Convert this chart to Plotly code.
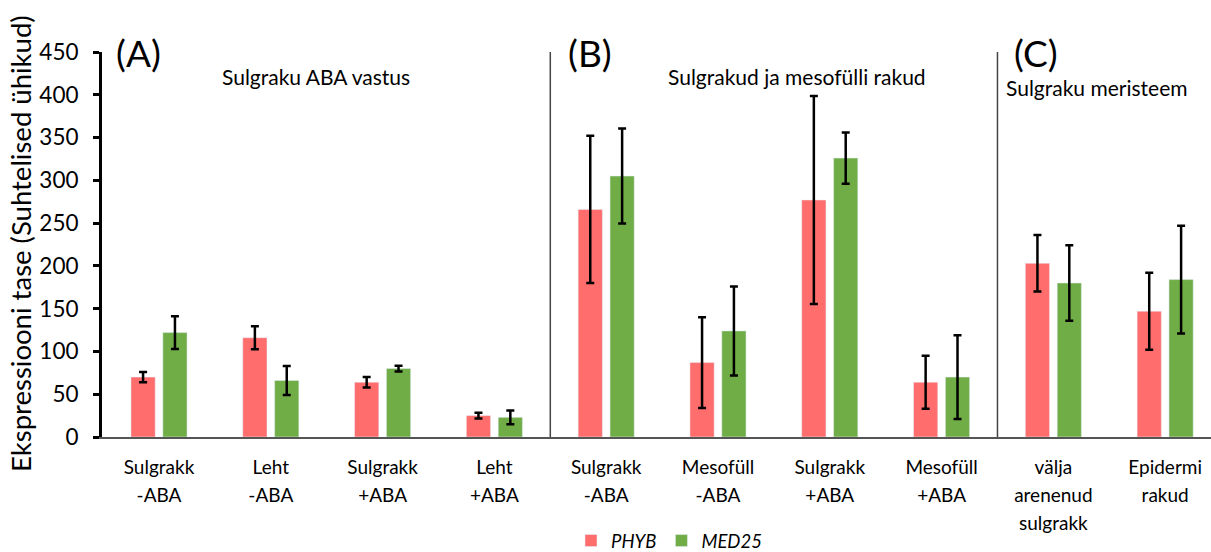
import plotly.graph_objects as go

# Expression data (relative units) for each sample group
categories = [
    "Sulgrakk<br>-ABA", "Leht<br>-ABA", "Sulgrakk<br>+ABA", "Leht<br>+ABA",
    "Sulgrakk<br>-ABA", "Mesofüll<br>-ABA", "Sulgrakk<br>+ABA", "Mesofüll<br>+ABA",
    "välja<br>arenenud<br>sulgrakk", "Epidermi<br>rakud",
]
phyb_values = [70, 116, 64, 25, 266, 87, 277, 64, 203, 147]
phyb_errors = [6, 13.5, 6, 3.3, 86, 53, 121.5, 31, 33, 45]
med25_values = [122, 66, 80, 23, 305, 124, 326, 70, 180, 184]
med25_errors = [19, 17, 3.3, 8, 55.5, 52, 30, 49, 44, 63]

panel_labels = ["(A)", "(B)", "(C)"]
panel_titles = ["Sulgraku ABA vastus", "Sulgrakud ja mesofülli rakud", "Sulgraku meristeem"]
y_title = "Ekspressiooni tase (Suhtelised ühikud)"

FONT = "Lato"
RED = "#FF6D6D"
GREEN = "#70AD47"

W, H = 1211, 552
ML, MT, MB = 102, 52, 115
plot_w = W - ML
plot_h = H - MT - MB


def px_to_paper(px, py):
    """Pixel position in the page -> paper coordinates."""
    return (px - ML) / plot_w, (H - MB - py) / plot_h


x_pos = list(range(len(categories)))

fig = go.Figure()
fig.add_trace(go.Bar(
    x=x_pos, y=phyb_values, name="<i>PHYB</i>", marker_color=RED,
    error_y=dict(type="data", array=phyb_errors, color="black", thickness=2.5, width=4),
))
fig.add_trace(go.Bar(
    x=x_pos, y=med25_values, name="<i>MED25</i>", marker_color=GREEN,
    error_y=dict(type="data", array=med25_errors, color="black", thickness=2.5, width=4),
))

tick_text = [
    "<br>".join(f"<span style='font-size:19px'>{part}</span>" for part in c.split("<br>"))
    for c in categories
]

fig.update_layout(
    width=W, height=H,
    margin=dict(l=ML, r=0, t=MT, b=MB, autoexpand=False),
    paper_bgcolor="white", plot_bgcolor="white",
    barmode="group", bargap=0.43, bargroupgap=0.24,
    font=dict(family=FONT, color="black"),
    showlegend=True,
    legend=dict(orientation="h", xref="container", yref="container",
                x=669 / W, xanchor="center", y=(H - 541) / H, yanchor="middle",
                font=dict(size=18.5, family=FONT), itemwidth=30, traceorder="normal"),
    xaxis=dict(
        range=[-0.51, 9.41], tickmode="array", tickvals=x_pos, ticktext=tick_text,
        showline=True, linecolor="#555555", linewidth=2, ticks="", showgrid=False,
        zeroline=False, tickfont=dict(size=21.5, family=FONT), tickangle=0,
        ticklabelstandoff=9, automargin=False,
    ),
    yaxis=dict(
        range=[0, 450], dtick=50, showline=True, linecolor="black", linewidth=3,
        ticks="outside", ticklen=6, tickwidth=3, tickcolor="black", showgrid=False,
        zeroline=False, tickfont=dict(size=22.5, family=FONT), ticklabelstandoff=10,
        automargin=False,
    ),
)

# Rotated y-axis title
tx, ty = px_to_paper(20, 244)
fig.add_annotation(text=y_title, x=tx, y=ty, xref="paper", yref="paper", textangle=-90,
                   showarrow=False, font=dict(size=27.5, family=FONT),
                   xanchor="center", yanchor="middle")

# Panel dividers
for xd in (3.5, 7.5):
    fig.add_shape(type="line", xref="x", yref="y", x0=xd, x1=xd, y0=0, y1=450,
                  line=dict(color="#444444", width=1.5))

# Panel letters
for lbl, px in zip(panel_labels, (138, 590, 1036)):
    ax, ay = px_to_paper(px, 52)
    fig.add_annotation(text=lbl, x=ax, y=ay, xref="paper", yref="paper", showarrow=False,
                       font=dict(size=37, family=FONT), xanchor="center", yanchor="middle")

# Panel subtitles
for title, px, py, anchor in zip(panel_titles, (316, 797, 1004), (76, 76, 87),
                                 ("center", "center", "left")):
    ax, ay = px_to_paper(px, py)
    fig.add_annotation(text=title, x=ax, y=ay, xref="paper", yref="paper", showarrow=False,
                       font=dict(size=21, family=FONT), xanchor=anchor, yanchor="middle")

fig.write_html("out.html")
